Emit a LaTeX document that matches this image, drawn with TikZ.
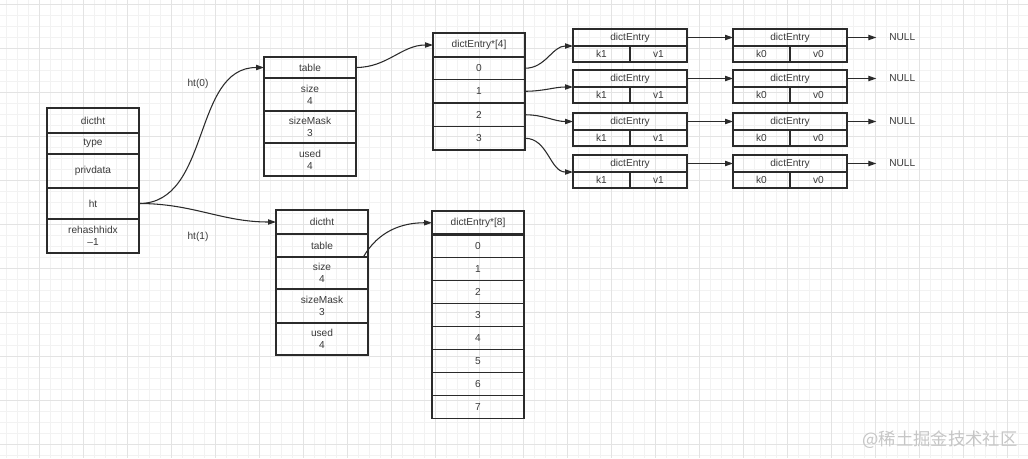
\documentclass[tikz,border=0pt]{standalone}
\usepackage{fontspec}
\setmainfont{Liberation Sans}
\newfontfamily\cjkfont{Noto Sans CJK SC}
\usetikzlibrary{positioning,arrows.meta}

\definecolor{ink}{HTML}{2B2B2B}
\definecolor{txt}{HTML}{3A3A3A}
\definecolor{gridminor}{HTML}{F2F2F2}
\definecolor{gridmajor}{HTML}{E3E3E3}
\definecolor{wmark}{HTML}{C6C6C6}

\tikzset{
  cell/.style={draw=ink, line width=0.9pt, inner sep=0pt, outer sep=0pt, align=center,
    minimum width=69pt, minimum height=#1*0.75pt,
    font=\fontsize{7.6}{9}\selectfont, text=txt},
  ehead/.style={cell=17, minimum width=85.5pt},
  ekv/.style={cell=16, minimum width=42.75pt},
  headline/.style={draw=ink, line width=1.7pt},
  arr/.style={draw=ink, line width=0.8pt, -{Triangle[length=6pt,width=4pt]}},
  lbl/.style={font=\fontsize{7.6}{9}\selectfont, text=txt},
  nullnode/.style={lbl, inner xsep=9.5pt, inner ysep=1pt}
}

\begin{document}
\begin{tikzpicture}[x=0.75pt, y=-0.75pt]

    %draw paper and grid
    \useasboundingbox (0,0) rectangle (1028,458);
    \fill[white] (0,0) rectangle (1028,458);
    \foreach \g in {0,...,93} \draw[gridminor, line width=0.6pt] (6.3+11*\g,0) -- (6.3+11*\g,458);
    \foreach \g in {0,...,41} \draw[gridminor, line width=0.6pt] (0,4.5+11*\g) -- (1028,4.5+11*\g);
    \foreach \g in {0,...,23} \draw[gridmajor, line width=0.6pt] (39.3+44*\g,0) -- (39.3+44*\g,458);
    \foreach \g in {0,...,10} \draw[gridmajor, line width=0.6pt] (0,4.5+44*\g) -- (1028,4.5+44*\g);

    %draw dict
    \node[cell=25, anchor=north west] (dhead) at (47,108) {dictht};
    \node[cell=21, below=0pt of dhead] (dtype) {type};
    \node[cell=34, below=0pt of dtype] (dpriv) {privdata};
    \node[cell=31, below=0pt of dpriv] (dht) {ht};
    \node[cell=34, below=0pt of dht] (drehash) {rehashhidx\\–1};
    \draw[headline] (dhead.south west) -- (dhead.south east);

    %draw ht(0)
    \node[cell=21, anchor=north west] (t0table) at (264,57) {table};
    \node[cell=33, below=0pt of t0table] (t0size) {size\\4};
    \node[cell=32, below=0pt of t0size] (t0mask) {sizeMask\\3};
    \node[cell=33, below=0pt of t0mask] (t0used) {used\\4};

    %draw ht(1)
    \node[cell=24, anchor=north west] (t1head) at (276,210) {dictht};
    \node[cell=23, below=0pt of t1head] (t1table) {table};
    \node[cell=32, below=0pt of t1table] (t1size) {size\\4};
    \node[cell=34, below=0pt of t1size] (t1mask) {sizeMask\\3};
    \node[cell=32, below=0pt of t1mask] (t1used) {used\\4};
    \draw[headline] (t1head.south west) -- (t1head.south east);

    %draw bucket arrays
    \node[cell=24, anchor=north west] (a4head) at (433,33) {dictEntry*[4]};
    \node[cell=22.5, below=0pt of a4head] (a4c0) {0};
    \foreach \i [remember=\i as \p (initially 0)] in {1,2,3}
        \node[cell=23.5, below=0pt of a4c\p] (a4c\i) {\i};
    \draw[headline] (a4head.south west) -- (a4head.south east);

    \node[cell=23.5, anchor=north west] (a8head) at (432,211) {dictEntry*[8]};
    \node[cell=23, below=0pt of a8head] (a8c0) {0};
    \foreach \i [remember=\i as \p (initially 0)] in {1,...,7}
        \node[cell=23, below=0pt of a8c\p] (a8c\i) {\i};
    \draw[headline] (a8head.south west) -- (a8head.south east);

    %draw entry chains
    \foreach \r/\top in {1/29,2/70,3/113,4/155} {
        \node[ehead, anchor=north west] (e1h\r) at (573,\top) {dictEntry};
        \node[ekv, anchor=north west] (e1k\r) at (e1h\r.south west) {k1};
        \node[ekv, anchor=north east] (e1v\r) at (e1h\r.south east) {v1};
        \node[ehead, anchor=north west] (e2h\r) at (733,\top) {dictEntry};
        \node[ekv, anchor=north west] (e2k\r) at (e2h\r.south west) {k0};
        \node[ekv, anchor=north east] (e2v\r) at (e2h\r.south east) {v0};
        \node[nullnode, right=22pt of e2h\r] (null\r) {NULL};
        \draw[headline] (e1h\r.south west) -- (e1h\r.south east);
        \draw[headline] (e2h\r.south west) -- (e2h\r.south east);
        \draw[arr] (e1h\r) -- (e2h\r);
        \draw[arr] (e2h\r) -- (null\r);
    }

    %draw pointers
    \draw[arr] (dht.east) to[out=0,in=180] (t0table.west);
    \draw[arr] (dht.east) to[out=0,in=180] (t1head.west);
    \draw[arr] (t0table.east) to[out=0,in=180] (a4head.west);
    \draw[arr] ([xshift=-3.5pt]t1table.south east) to[out=60,in=180] (a8head.west);

    \draw[arr] (a4c0.east) to[out=0,in=180] (e1h1.south west);
    \draw[arr] (a4c1.east) to[out=0,in=180] (e1h2.south west);
    \draw[arr] (a4c2.east) to[out=0,in=180] (e1h3.west);
    \draw[arr] (a4c3.east) to[out=0,in=180] (e1h4.south west);

    %draw labels
    \node[lbl] (ht0lbl) at (198,84) {ht(0)};
    \node[lbl] (ht1lbl) at (198,237) {ht(1)};
    \node[text=wmark, font=\cjkfont\fontsize{13}{15}\selectfont] (wm) at (940,440) {@稀土掘金技术社区};

\end{tikzpicture}
\end{document}
